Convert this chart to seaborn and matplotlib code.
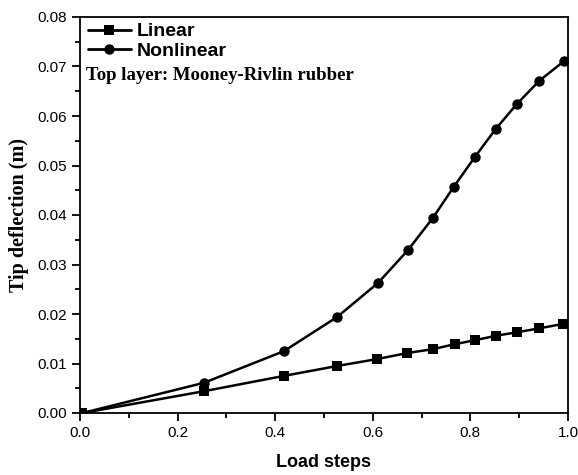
import matplotlib
matplotlib.use("Agg")
import matplotlib.pyplot as plt
import seaborn as sns
import pandas as pd
from matplotlib.ticker import MultipleLocator, FormatStrFormatter

# Data
linear_x = [0.005, 0.254, 0.418, 0.527, 0.609, 0.670, 0.723, 0.768, 0.809, 0.852, 0.895, 0.941, 0.990]
linear_y = [0.0000, 0.0044, 0.0075, 0.0095, 0.0109, 0.0121, 0.0129, 0.0139, 0.0147, 0.0156, 0.0163, 0.0171, 0.0180]
nonlinear_x = [0.005, 0.254, 0.418, 0.527, 0.611, 0.672, 0.723, 0.766, 0.809, 0.852, 0.895, 0.941, 0.992]
nonlinear_y = [0.0000, 0.0061, 0.0125, 0.0194, 0.0263, 0.0329, 0.0394, 0.0457, 0.0517, 0.0574, 0.0624, 0.0671, 0.0711]
series_names = ["Linear", "Nonlinear"]
x_label = "Load steps"
y_label = "Tip deflection (m)"
note = "Top layer: Mooney-Rivlin rubber"

df = pd.concat([
    pd.DataFrame({"x": linear_x, "y": linear_y, "series": series_names[0]}),
    pd.DataFrame({"x": nonlinear_x, "y": nonlinear_y, "series": series_names[1]}),
], ignore_index=True)

sns.set_style("ticks")
plt.rcParams["font.family"] = ["Liberation Sans", "DejaVu Sans"]
plt.rcParams["text.color"] = "black"
plt.rcParams["axes.labelcolor"] = "black"
plt.rcParams["xtick.color"] = "black"
plt.rcParams["ytick.color"] = "black"

fig = plt.figure(figsize=(5.78, 4.75), dpi=100)
ax = fig.add_axes([80/578, 1 - 413/475, 488/578, 396/475])

sns.lineplot(data=df, x="x", y="y", hue="series", style="series",
             palette=["black", "black"], markers={"Linear": "s", "Nonlinear": "o"},
             dashes=False, markersize=7.5, markeredgewidth=0, linewidth=1.8,
             sort=False, ax=ax, estimator=None)

ax.set_xlim(0, 1.0)
ax.set_ylim(0, 0.08)
ax.xaxis.set_major_locator(MultipleLocator(0.2))
ax.xaxis.set_minor_locator(MultipleLocator(0.1))
ax.yaxis.set_major_locator(MultipleLocator(0.01))
ax.yaxis.set_minor_locator(MultipleLocator(0.005))
ax.xaxis.set_major_formatter(FormatStrFormatter("%.1f"))
ax.yaxis.set_major_formatter(FormatStrFormatter("%.2f"))
ax.tick_params(which="major", direction="out", length=6, width=1.3, labelsize=11, color="black", labelcolor="black")
ax.tick_params(which="minor", direction="out", length=3.5, width=1.3, color="black")
ax.tick_params(top=False, right=False, which="both")
for s in ax.spines.values():
    s.set_visible(True)
    s.set_linewidth(1.3)
    s.set_color("black")

ax.set_xlabel(x_label, fontsize=13, fontweight="bold", labelpad=10, color="black")
ax.set_ylabel(y_label, fontsize=14.5, fontweight="bold", family=["Liberation Serif"], labelpad=6, color="black")

leg = ax.legend(loc="upper left", frameon=False, prop={"weight": "bold", "size": 14},
                handlelength=2.2, handletextpad=0.3, borderaxespad=0.0,
                bbox_to_anchor=(0.0, 1.005), labelspacing=0.1)
for t in leg.get_texts():
    t.set_color("black")
for h in leg.get_lines():
    h.set_linewidth(2.0)

ax.text(0.012, 0.852, note, transform=ax.transAxes, fontsize=13.5, fontweight="bold",
        family=["Liberation Serif"], va="center", ha="left", color="black")

fig.savefig("out.png", dpi=100)
